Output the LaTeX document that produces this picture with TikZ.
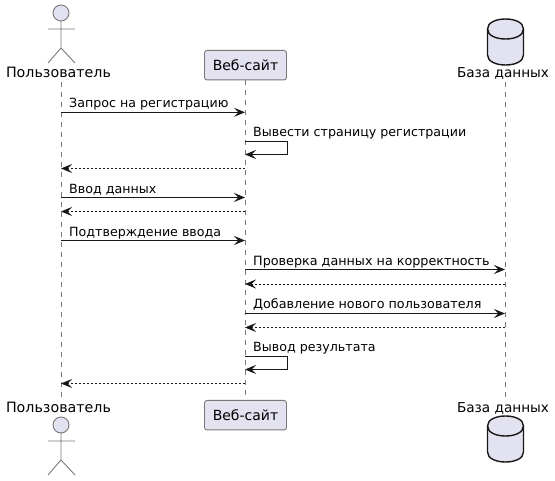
\documentclass[tikz,border=0pt]{standalone}
\usepackage{fontspec}
\setmainfont{DejaVu Sans}
\usetikzlibrary{arrows.meta,calc}
\definecolor{ink}{HTML}{181818}
\definecolor{part}{HTML}{E2E2F0}
\definecolor{soft}{HTML}{787878}
\tikzset{
  life/.style={draw=soft,line width=.8pt,dash pattern=on 5pt off 5pt},
  msg/.style={draw=ink,line width=1pt,-{Stealth[length=11pt,width=9pt,inset=4.5pt,color=ink]}},
  ret/.style={msg,line width=.8pt,dash pattern=on 2pt off 2pt},
  lbl/.style={anchor=base west,inner sep=0pt,font=\fontsize{12.65}{15}\selectfont,text=black},
  lblwide/.style={lbl,font=\fontsize{12.75}{15}\selectfont},
  actorname/.style={anchor=base,inner sep=0pt,font=\fontsize{14}{16}\selectfont,text=black},
  stick/.style={draw=soft,line width=.9pt},
  partbox/.style={draw=soft,fill=part,line width=.9pt,rounded corners=2.5pt,minimum width=82pt,minimum height=29.5pt,inner sep=0pt,font=\fontsize{14}{16}\selectfont,text=black},
  dbshape/.style={draw=ink,fill=part,line width=1.4pt},
}
\begin{document}
\begin{tikzpicture}[x=1pt,y=-1pt]
\useasboundingbox (0,0) rectangle (555,481);
% lifeline anchors
\coordinate (u) at (61,82);  \coordinate (ub) at (61,400);
\coordinate (w) at (245,80); \coordinate (wb) at (245,400);
\coordinate (d) at (505,82); \coordinate (db) at (505,400);
\draw[life] (u) -- (ub);
\draw[life] (w) -- (wb);
\draw[life] (d) -- (db);
% actors
\foreach \yo in {13,425}{
  \draw[stick,fill=part] (61,\yo) circle (8);
  \draw[stick] (61,\yo+8) -- (61,\yo+35) (48,\yo+16) -- (75,\yo+16)
    (48,\yo+50) -- (61,\yo+35) -- (75,\yo+50);
}
\node[actorname,font=\fontsize{14.25}{16}\selectfont] (ulabel) at (58.5,78) {Пользователь};
\node[actorname,font=\fontsize{14.25}{16}\selectfont] (ulabelb) at (58.5,413) {Пользователь};
% web boxes
\node[partbox] (web) at (245.5,65.2) {Веб-сайт};
\node[partbox] (webb) at (245.5,415.2) {Веб-сайт};
% databases
\foreach \yo in {19,416}{
  \draw[dbshape] (487.5,\yo+10) .. controls (487.5,\yo+3.5) and (496,\yo) .. (505.5,\yo)
    .. controls (515,\yo) and (523.5,\yo+3.5) .. (523.5,\yo+10)
    -- (523.5,\yo+36) .. controls (523.5,\yo+42.5) and (515,\yo+46) .. (505.5,\yo+46)
    .. controls (496,\yo+46) and (487.5,\yo+42.5) .. (487.5,\yo+36) -- cycle;
  \draw[ink,line width=1.4pt] (487.5,\yo+10) .. controls (487.5,\yo+16.5) and (496,\yo+20) .. (505.5,\yo+20)
    .. controls (515,\yo+20) and (523.5,\yo+16.5) .. (523.5,\yo+10);
}
\node[actorname,font=\fontsize{13.6}{16}\selectfont] (dlabel) at (503,78) {База данных};
\node[actorname,font=\fontsize{13.6}{16}\selectfont] (dlabelb) at (503,413) {База данных};
% messages
\node[lbl] (m1) at (69,107.6) {Запрос на регистрацию};
\draw[msg] (u |- 0,112.3) -- (w |- 0,112.3);
\node[lbl] (m2) at (253,136.6) {Вывести страницу регистрации};
\draw[msg] (w |- 0,141.5) -- (287.5,141.5) -- (287.5,154.5) -- (w |- 0,154.5);
\draw[ret] (w |- 0,168.5) -- (u |- 0,168.5);
\node[lbl] (m3) at (69,193.6) {Ввод данных};
\draw[msg] (u |- 0,197.5) -- (w |- 0,197.5);
\draw[ret] (w |- 0,211.5) -- (u |- 0,211.5);
\node[lbl] (m4) at (69,236.6) {Подтверждение ввода};
\draw[msg] (u |- 0,240.5) -- (w |- 0,240.5);
\node[lblwide] (m5) at (253,265.6) {Проверка данных на корректность};
\draw[msg] (w |- 0,269.5) -- (d |- 0,269.5);
\draw[ret] (d |- 0,284) -- (w |- 0,284);
\node[lblwide] (m6) at (253,308.6) {Добавление нового пользователя};
\draw[msg] (w |- 0,313.5) -- (d |- 0,313.5);
\draw[ret] (d |- 0,327.5) -- (w |- 0,327.5);
\node[lbl] (m7) at (253,351.6) {Вывод результата};
\draw[msg] (w |- 0,356.5) -- (287.5,356.5) -- (287.5,369.5) -- (w |- 0,369.5);
\draw[ret] (w |- 0,383.5) -- (u |- 0,383.5);
\end{tikzpicture}
\end{document}
